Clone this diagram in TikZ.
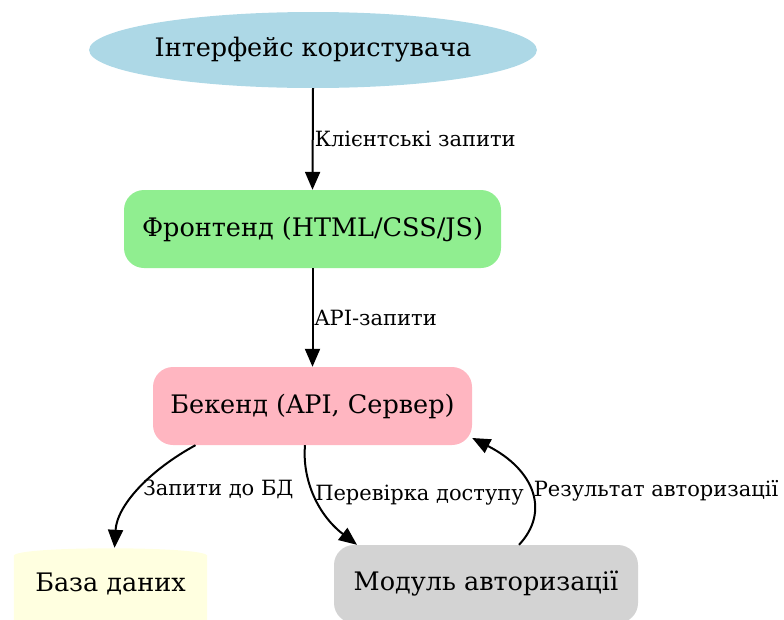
\documentclass[tikz,border=0pt]{standalone}
\usepackage{fontspec}
\setmainfont{DejaVu Serif}
\usetikzlibrary{arrows.meta,shapes.geometric,backgrounds}
\definecolor{uic}{HTML}{ADD8E6}
\definecolor{fec}{HTML}{90EE90}
\definecolor{bec}{HTML}{FFB6C1}
\definecolor{amc}{HTML}{D3D3D3}
\definecolor{dbc}{HTML}{FFFFE0}
\begin{document}
\begin{tikzpicture}[x=1pt,y=1pt,
  mainfont/.style={font=\fontsize{25.5}{30}\selectfont},
  box/.style={rounded corners=20pt, inner sep=0pt, mainfont},
  lbl/.style={font=\fontsize{21}{24}\selectfont, anchor=west, inner sep=1pt},
  arr/.style={-{Triangle[length=18pt,width=15pt]}, line width=2pt}]
\useasboundingbox (0,0) rectangle (784,-619);
\clip (0,0) rectangle (784,-619);
\node[ellipse, fill=uic, minimum width=440, minimum height=76, inner sep=0pt, mainfont] (ui) at (313,-50) {Інтерфейс користувача};
\node[box, fill=fec, minimum width=377, minimum height=78] (fe) at (312.5,-229) {Фронтенд (HTML/CSS/JS)};
\node[box, fill=bec, minimum width=319, minimum height=78] (be) at (312.5,-406) {Бекенд (API, Сервер)};
\node[box, fill=amc, minimum width=304, minimum height=78] (am) at (486,-584) {Модуль авторизації};
\node[inner sep=0pt, minimum width=193, minimum height=72, mainfont] (db) at (110.5,-584) {База даних};
\begin{scope}[on background layer]
\fill[dbc] (db.south west) -- ([yshift=-8]db.north west) .. controls ([yshift=2]db.north west) and ([yshift=2]db.north east) .. ([yshift=-8]db.north east) -- (db.south east) -- cycle;
\end{scope}
\draw[arr] (ui.south) -- node[lbl, midway] {Клієнтські запити} (fe.north);
\draw[arr] (fe.south) -- node[lbl, midway] {API-запити} (be.north);
\draw[arr] ([xshift=-117]be.south) .. controls (150,-470) and (117,-505) .. node[lbl, pos=0.5, xshift=2] {Запити до БД} ([xshift=4]db.north);
\draw[arr] ([xshift=-7.5]be.south) .. controls (302,-480) and (318,-515) .. node[lbl, pos=0.5, xshift=-2, yshift=2] {Перевірка доступу} ([xshift=-129]am.north);
\draw[arr] ([xshift=33]am.north) .. controls (550,-512) and (535,-470) .. node[lbl, pos=0.5, xshift=1] {Результат авторизації} ([yshift=-32]be.east);
\end{tikzpicture}
\end{document}
